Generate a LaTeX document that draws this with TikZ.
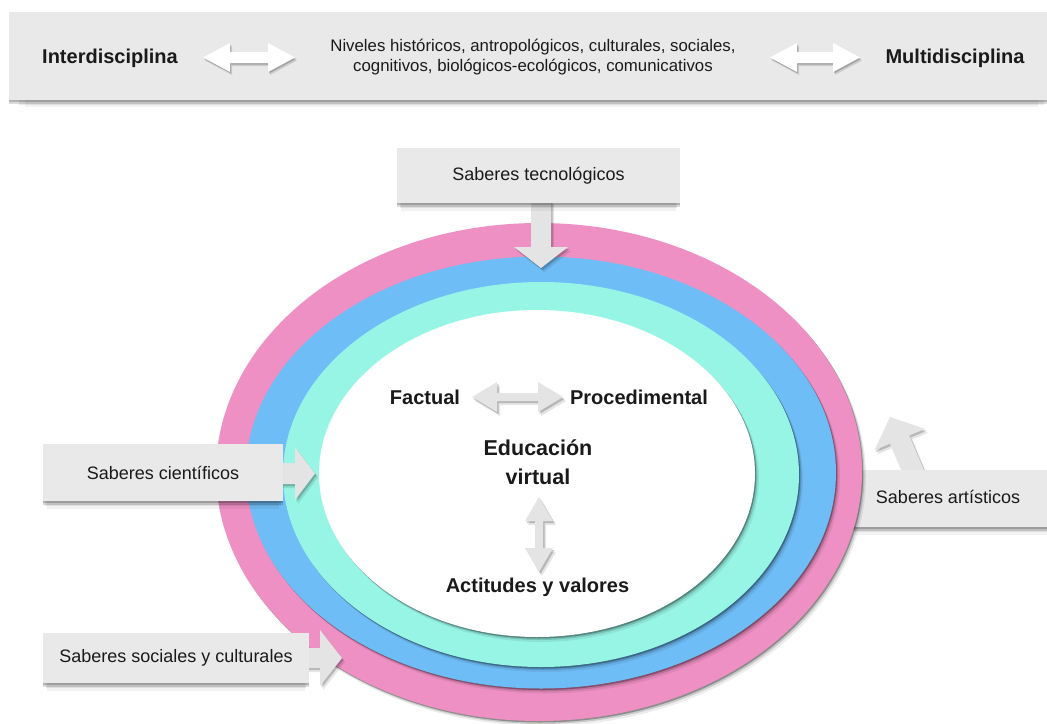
\documentclass[tikz,border=0pt]{standalone}
\usepackage{fontspec}
\setmainfont{Liberation Sans}
\usetikzlibrary{shapes.geometric,shadows}
\definecolor{pinkring}{HTML}{EE90C3}
\definecolor{bluering}{HTML}{6FBDF6}
\definecolor{tealring}{HTML}{97F5E6}
\definecolor{boxgray}{HTML}{E9E9E9}
\definecolor{arrgray}{HTML}{E4E4E4}
\definecolor{txt}{HTML}{1A1A1A}
\tikzset{
  boxshadow/.style={
    drop shadow={shadow xshift=0pt,shadow yshift=-9pt,shadow scale=0.97,opacity=.05,fill=black},
    drop shadow={shadow xshift=0pt,shadow yshift=-6pt,shadow scale=0.98,opacity=.08,fill=black},
    drop shadow={shadow xshift=0pt,shadow yshift=-3.5pt,opacity=.14,fill=black},
    drop shadow={shadow xshift=0pt,shadow yshift=-1.5pt,opacity=.18,fill=black}},
  graybox/.style={rectangle,fill=boxgray,inner sep=0pt,boxshadow,
    font=\fontsize{18}{21}\selectfont,text=txt},
  ring/.style={ellipse,inner sep=0pt,
    drop shadow={shadow xshift=4pt,shadow yshift=-5pt,opacity=.07,fill=black},
    drop shadow={shadow xshift=2.5pt,shadow yshift=-3pt,opacity=.15,fill=black},
    drop shadow={shadow xshift=1.2pt,shadow yshift=-1.5pt,opacity=.3,fill=black}},
  fatarrow/.style={fill=arrgray,
    drop shadow={shadow xshift=3pt,shadow yshift=-4pt,opacity=.10,fill=black},
    drop shadow={shadow xshift=1.5pt,shadow yshift=-2pt,opacity=.2,fill=black}},
  whitearrow/.style={fill=white,
    drop shadow={shadow xshift=2pt,shadow yshift=-3pt,opacity=.12,fill=black},
    drop shadow={shadow xshift=1pt,shadow yshift=-1.5pt,opacity=.2,fill=black}},
  boldlabel/.style={font=\bfseries\fontsize{20}{24}\selectfont,text=txt,inner sep=0pt},
}
\begin{document}
\begin{tikzpicture}[x=1pt,y=-1pt]
\useasboundingbox (0,0) rectangle (1047,723);

% ---- top banner ----
\node[rectangle,fill=boxgray,inner sep=0pt,minimum width=1045pt,minimum height=88pt,boxshadow]
  (banner) at (531.5,56) {};
\node[boldlabel] (inter) at (110,58) {Interdisciplina};
\node[boldlabel] (multi) at (955,58) {Multidisciplina};
\node[align=center,font=\fontsize{16.8}{20}\selectfont,text=txt,inner sep=0pt]
  (niveles) at (533,57) {Niveles históricos, antropológicos, culturales, sociales,\\
  cognitivos, biológicos-ecológicos, comunicativos};
% banner double arrows
\fill[whitearrow] (203,57.5) -- (230,43) -- (230,52) -- (268,52) -- (268,43) -- (295,57.5)
  -- (268,72) -- (268,63) -- (230,63) -- (230,72) -- cycle;
\fill[whitearrow] (770,57.5) -- (797,43) -- (797,52) -- (833,52) -- (833,43) -- (860,57.5)
  -- (833,72) -- (833,63) -- (797,63) -- (797,72) -- cycle;

% ---- Saberes artísticos (behind rings) ----
\begin{scope}[shift={(912.5,470)},rotate=23]
  \fill[fatarrow] (-10.5,12) -- (-10.5,-33) -- (-27.5,-33) -- (0,-57.5) -- (27.5,-33)
    -- (10.5,-33) -- (10.5,12) -- cycle;
\end{scope}
\node[graybox,minimum width=200pt,minimum height=57pt] (artis) at (952,498.5) {};
\node[font=\fontsize{18}{21}\selectfont,text=txt,inner sep=0pt] (artistxt) at (948,497)
  {Saberes artísticos};

% ---- rings ----
\node[ring,fill=pinkring,minimum width=646pt,minimum height=498pt] (pink) at (539,472) {};
\node[ring,fill=bluering,minimum width=590pt,minimum height=432pt] (blue) at (541,472.5) {};
\node[ring,fill=tealring,minimum width=516pt,minimum height=385pt] (teal) at (541,474.5) {};
\node[ring,fill=white,minimum width=436pt,minimum height=327pt] (core) at (537,473.5) {};

% ---- Saberes tecnológicos ----
\fill[fatarrow] (531,200) -- (551,200) -- (551,247) -- (568,247) -- (541,268)
  -- (514,247) -- (531,247) -- cycle;
\node[graybox,minimum width=283pt,minimum height=55pt] (tecno) at (538.5,175.5)
  {Saberes tecnológicos};

% ---- Saberes científicos ----
\fill[fatarrow] (280,463) -- (295,463) -- (295,447) -- (315,473.5) -- (295,500)
  -- (295,484) -- (280,484) -- cycle;
\node[graybox,minimum width=240pt,minimum height=57pt] (cienti) at (163,472.5)
  {Saberes científicos};

% ---- Saberes sociales y culturales ----
\fill[fatarrow] (306,648) -- (320,648) -- (320,630) -- (342,658) -- (320,686)
  -- (320,668) -- (306,668) -- cycle;
\node[graybox,minimum width=266pt,minimum height=50pt] (social) at (176,658)
  {Saberes sociales y culturales};

% ---- centre ----
\node[boldlabel] (factual) at (425,397) {Factual};
\node[boldlabel] (proced) at (639,397) {Procedimental};
\node[align=center,font=\bfseries\fontsize{21.5}{29}\selectfont,text=txt,inner sep=0pt]
  (edu) at (538,462) {Educación\\virtual};
\node[boldlabel] (actit) at (537.5,587) {Actitudes y valores};
\fill[fatarrow] (472,397) -- (497,382) -- (497,393) -- (538,393) -- (538,382) -- (563,397)
  -- (538,412) -- (538,401) -- (497,401) -- (497,412) -- cycle;
\fill[fatarrow] (539,497) -- (553,521) -- (543,521) -- (543,548) -- (553,548) -- (539,572)
  -- (525,548) -- (535,548) -- (535,521) -- (525,521) -- cycle;
\end{tikzpicture}
\end{document}
